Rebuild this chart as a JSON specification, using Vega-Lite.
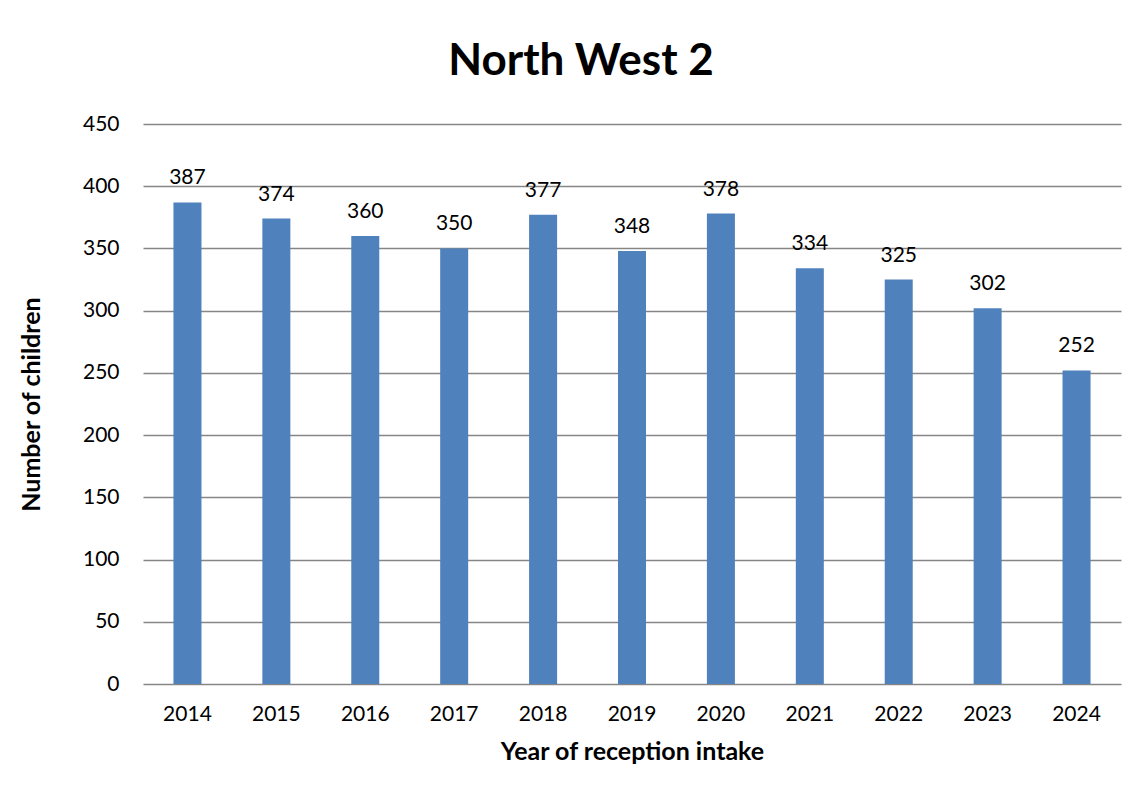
{
  "$schema": "https://vega.github.io/schema/vega-lite/v6.json",
  "width": 978,
  "height": 560,
  "autosize": {"type": "none"},
  "padding": {"left": 143, "top": 124, "right": 18, "bottom": 110},
  "background": "white",
  "title": {
    "text": "North West 2",
    "font": "Lato",
    "fontSize": 44,
    "fontWeight": "bold",
    "color": "black",
    "anchor": "middle",
    "frame": "group",
    "dx": -51,
    "offset": 29
  },
  "data": {
    "values": [
      {"year": "2014", "children": 387},
      {"year": "2015", "children": 374},
      {"year": "2016", "children": 360},
      {"year": "2017", "children": 350},
      {"year": "2018", "children": 377},
      {"year": "2019", "children": 348},
      {"year": "2020", "children": 378},
      {"year": "2021", "children": 334},
      {"year": "2022", "children": 325},
      {"year": "2023", "children": 302},
      {"year": "2024", "children": 252}
    ]
  },
  "encoding": {
    "x": {
      "field": "year",
      "type": "ordinal",
      "scale": {"paddingInner": 0.685, "paddingOuter": 0.3425},
      "axis": {
        "title": "Year of reception intake",
        "labelAngle": 0,
        "labelFont": "Lato",
        "labelFontSize": 21,
        "labelColor": "black",
        "labelPadding": 19,
        "ticks": false,
        "domain": false,
        "titleFont": "Lato",
        "titleFontSize": 25,
        "titleFontWeight": "bold",
        "titleColor": "black",
        "titlePadding": 15
      }
    },
    "y": {
      "field": "children",
      "type": "quantitative",
      "scale": {"domain": [0, 450], "nice": false},
      "axis": {
        "title": "Number of children",
        "values": [0, 50, 100, 150, 200, 250, 300, 350, 400, 450],
        "labelFont": "Lato",
        "labelFontSize": 21,
        "labelColor": "black",
        "labelPadding": 24,
        "ticks": false,
        "domain": false,
        "grid": true,
        "gridColor": "#868686",
        "gridWidth": 1.5,
        "titleFont": "Lato",
        "titleFontSize": 25,
        "titleFontWeight": "bold",
        "titleColor": "black",
        "titlePadding": 38
      }
    }
  },
  "layer": [
    {"mark": {"type": "bar", "color": "#4F81BD"}},
    {
      "mark": {
        "type": "text",
        "dy": -18,
        "baseline": "alphabetic",
        "font": "Lato",
        "fontSize": 21,
        "color": "black"
      },
      "encoding": {"text": {"field": "children", "type": "quantitative"}}
    }
  ],
  "config": {"view": {"stroke": null}}
}
